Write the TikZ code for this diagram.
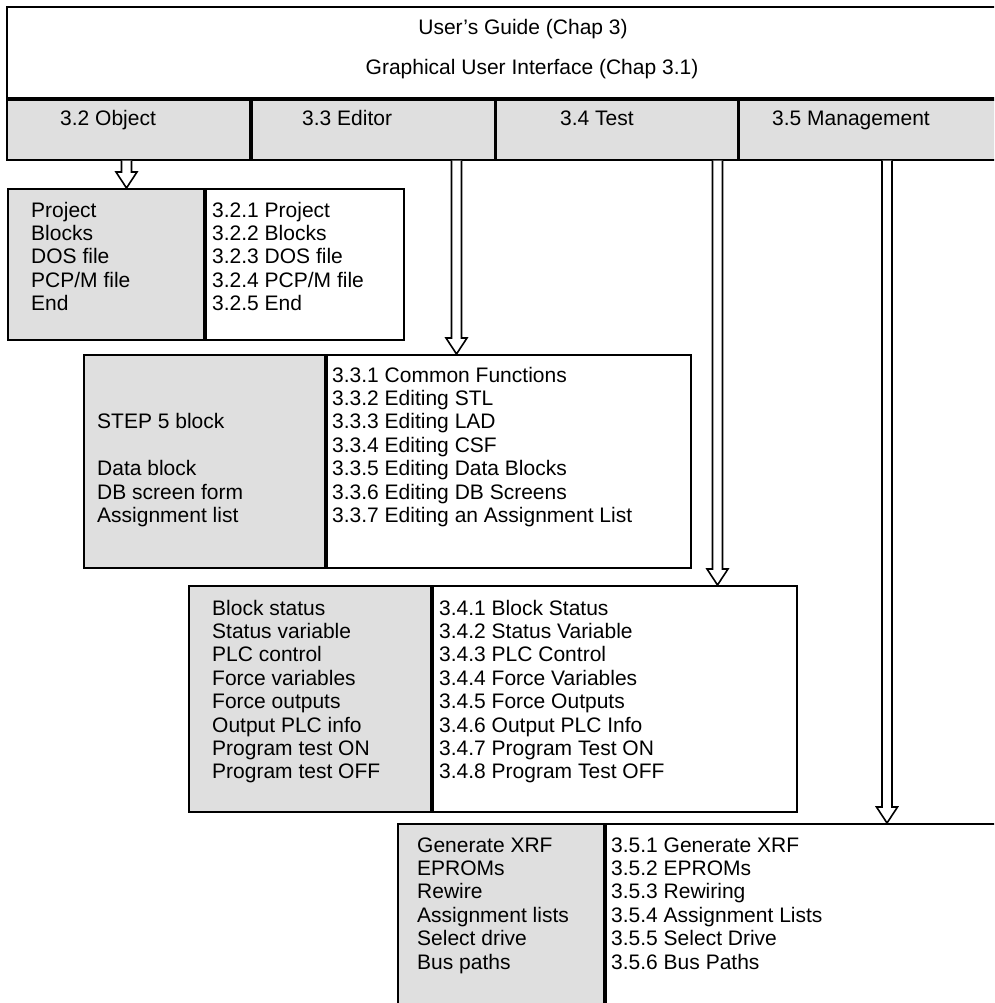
\documentclass[tikz,border=0pt]{standalone}
\usepackage{fontspec}
\setmainfont{Liberation Sans}
\usetikzlibrary{calc}
\definecolor{panelgrey}{gray}{0.875}

% one column of menu entries, base = first line
\newcommand{\menucol}[1]{\begin{tabular}[t]{@{}l@{}}#1\end{tabular}}
% hollow block arrow from #1 down to the tip #2
\newcommand{\hollowarrow}[2]{%
  \draw[blockarrow] ($(#1)+(-5,0)$) -- ($(#2)+(-5,-16)$) -- ($(#2)+(-10.5,-16)$)
    -- (#2) -- ($(#2)+(10.5,-16)$) -- ($(#2)+(5,-16)$) -- ($(#1)+(5,0)$);}

\begin{document}
\begin{tikzpicture}[x=1pt, y=-1pt,
  frame/.style={draw, line width=1.8pt, anchor=north west, inner sep=0pt},
  greybox/.style={frame, fill=panelgrey},
  whitebox/.style={frame, fill=white},
  txt/.style={anchor=base west, inner sep=0pt, font=\fontsize{21}{23.4}\selectfont},
  blockarrow/.style={line width=1.6pt, fill=white, line join=miter}]

\useasboundingbox (0,0) rectangle (994,1003);
\clip (0,0) rectangle (994,1003);

% header
\node[whitebox, minimum width=1100, minimum height=91] (guide) at (6,6) {};
\node[txt, anchor=base] (title) at (523,35) {User’s Guide (Chap 3)};
\node[txt, anchor=base] (gui) at (532,75) {Graphical User Interface (Chap 3.1)};

\node[greybox, minimum width=243, minimum height=60] (cobj) at (guide.south west) {};
\node[greybox, minimum width=243, minimum height=60] (cedit) at (cobj.north east) {};
\node[greybox, minimum width=241, minimum height=60] (ctest) at (cedit.north east) {};
\node[greybox, minimum width=400, minimum height=60] (cman) at (ctest.north east) {};
\node[txt] (tobj) at (60,126) {3.2 Object};
\node[txt] (tedit) at (302,126) {3.3 Editor};
\node[txt] (ttest) at (560,126) {3.4 Test};
\node[txt] (tman) at (772,126) {3.5 Management};

% 3.2 Object
\node[greybox, minimum width=196, minimum height=151] (obj-l) at (7,188) {};
\node[whitebox, minimum width=198, minimum height=151] (obj-r) at (obj-l.north east) {};
\node[txt] (obj-lt) at (31,217) {\menucol{Project\\Blocks\\DOS file\\PCP/M file\\End}};
\node[txt] (obj-rt) at (212,217) {\menucol{3.2.1 Project\\3.2.2 Blocks\\3.2.3 DOS file\\3.2.4 PCP/M file\\3.2.5 End}};

% 3.3 Editor
\node[greybox, minimum width=241, minimum height=213] (edit-l) at (83,354) {};
\node[whitebox, minimum width=364, minimum height=213] (edit-r) at (edit-l.north east) {};
\node[txt] (edit-lt) at (97,382) {\menucol{{}\\{}\\STEP 5 block\\{}\\Data block\\DB screen form\\Assignment list}};
\node[txt] (edit-rt) at (332,382) {\menucol{3.3.1 Common Functions\\3.3.2 Editing STL\\3.3.3 Editing LAD\\3.3.4 Editing CSF\\3.3.5 Editing Data Blocks\\3.3.6 Editing DB Screens\\3.3.7 Editing an Assignment List}};

% 3.4 Test
\node[greybox, minimum width=242, minimum height=226] (test-l) at (188,585) {};
\node[whitebox, minimum width=364, minimum height=226] (test-r) at (test-l.north east) {};
\node[txt] (test-lt) at (212,615) {\menucol{Block status\\Status variable\\PLC control\\Force variables\\Force outputs\\Output PLC info\\Program test ON\\Program test OFF}};
\node[txt] (test-rt) at (439,615) {\menucol{3.4.1 Block Status\\3.4.2 Status Variable\\3.4.3 PLC Control\\3.4.4 Force Variables\\3.4.5 Force Outputs\\3.4.6 Output PLC Info\\3.4.7 Program Test ON\\3.4.8 Program Test OFF}};

% 3.5 Management
\node[greybox, minimum width=206, minimum height=300] (man-l) at (397,823) {};
\node[whitebox, minimum width=500, minimum height=300] (man-r) at (man-l.north east) {};
\node[txt] (man-lt) at (417,852) {\menucol{Generate XRF\\EPROMs\\Rewire\\Assignment lists\\Select drive\\Bus paths}};
\node[txt] (man-rt) at (611,852) {\menucol{3.5.1 Generate XRF\\3.5.2 EPROMs\\3.5.3 Rewiring\\3.5.4 Assignment Lists\\3.5.5 Select Drive\\3.5.6 Bus Paths}};

% arrows
\coordinate (objx) at (126.5,0);
\coordinate (editx) at (456.5,0);
\coordinate (testx) at (717.5,0);
\coordinate (manx) at (887,0);
\coordinate (obj-a) at (cobj.south -| objx);
\coordinate (obj-b) at (obj-l.north -| objx);
\coordinate (edit-a) at (cedit.south -| editx);
\coordinate (edit-b) at (edit-r.north -| editx);
\coordinate (test-a) at (ctest.south -| testx);
\coordinate (test-b) at (test-r.north -| testx);
\coordinate (man-a) at (cman.south -| manx);
\coordinate (man-b) at (man-r.north -| manx);
\hollowarrow{obj-a}{obj-b}
\hollowarrow{edit-a}{edit-b}
\hollowarrow{test-a}{test-b}
\hollowarrow{man-a}{man-b}

\end{tikzpicture}
\end{document}
